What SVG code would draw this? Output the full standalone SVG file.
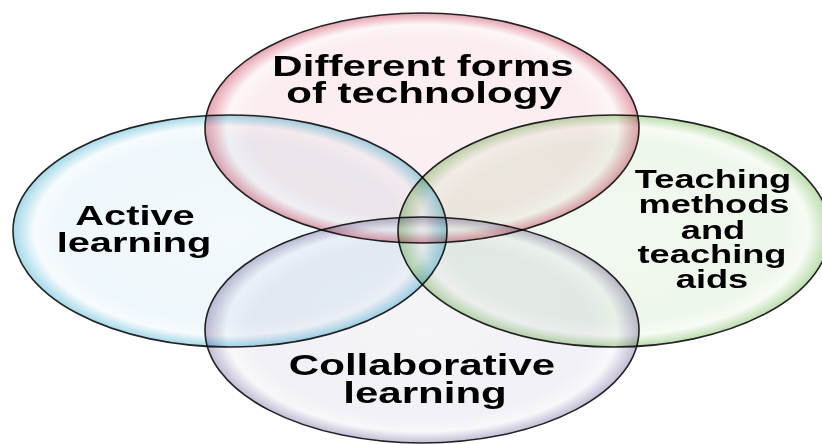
<svg xmlns="http://www.w3.org/2000/svg" width="822" height="444" viewBox="0 0 822 444">
<defs>
<radialGradient id="gPink" cx="0.5" cy="0.5" r="0.5">
<stop offset="0" stop-color="#fcf0f2"/>
<stop offset="0.78" stop-color="#fbecef"/>
<stop offset="0.9" stop-color="#fdf6f7"/>
<stop offset="1" stop-color="#e6a2ae"/>
</radialGradient>
<radialGradient id="gBlue" cx="0.5" cy="0.5" r="0.5">
<stop offset="0" stop-color="#f3f9fc"/>
<stop offset="0.78" stop-color="#eef7fb"/>
<stop offset="0.9" stop-color="#f7fbfd"/>
<stop offset="1" stop-color="#a4d9ea"/>
</radialGradient>
<radialGradient id="gGreen" cx="0.5" cy="0.5" r="0.5">
<stop offset="0" stop-color="#f3f9f1"/>
<stop offset="0.78" stop-color="#eef7eb"/>
<stop offset="0.9" stop-color="#f7fbf5"/>
<stop offset="1" stop-color="#bcddae"/>
</radialGradient>
<radialGradient id="gPurple" cx="0.5" cy="0.5" r="0.5">
<stop offset="0" stop-color="#f5f4f8"/>
<stop offset="0.78" stop-color="#f1f0f6"/>
<stop offset="0.9" stop-color="#f8f8fb"/>
<stop offset="1" stop-color="#c2bcd4"/>
</radialGradient>
<style>
.bubble{stroke:#222;stroke-width:1.6;mix-blend-mode:multiply}
.lbl{font-family:"Liberation Sans",Arial,sans-serif;font-weight:bold;fill:#000;text-anchor:middle}
</style>
</defs>
<rect width="822" height="444" fill="#fff"/>
<g id="node-technology">
<ellipse class="bubble" cx="422" cy="128" rx="217" ry="115" fill="url(#gPink)"/>
</g>
<g id="node-active">
<ellipse class="bubble" cx="230" cy="231" rx="217" ry="116" fill="url(#gBlue)"/>
</g>
<g id="node-teaching">
<ellipse class="bubble" cx="614" cy="231" rx="216" ry="116" fill="url(#gGreen)"/>
</g>
<g id="node-collaborative">
<ellipse class="bubble" cx="422" cy="330" rx="217" ry="113" fill="url(#gPurple)"/>
</g>
<g id="connectors"></g>
<g id="labels">
<g id="label-technology" class="lbl" font-size="29">
<text transform="translate(423 76) scale(1.45 1)">Different forms</text>
<text transform="translate(424 103) scale(1.45 1)">of technology</text>
</g>
<g id="label-active" class="lbl" font-size="28">
<text transform="translate(135 225) scale(1.42 1)">Active</text>
<text transform="translate(134 252) scale(1.42 1)">learning</text>
</g>
<g id="label-teaching" class="lbl" font-size="25">
<text transform="translate(713 188) scale(1.45 1)">Teaching</text>
<text transform="translate(714 213) scale(1.45 1)">methods</text>
<text transform="translate(713 239) scale(1.45 1)">and</text>
<text transform="translate(712 263) scale(1.45 1)">teaching</text>
<text transform="translate(712 288) scale(1.45 1)">aids</text>
</g>
<g id="label-collaborative" class="lbl" font-size="29">
<text transform="translate(422 375) scale(1.45 1)">Collaborative</text>
<text transform="translate(425 403) scale(1.45 1)">learning</text>
</g>
</g>
</svg>
